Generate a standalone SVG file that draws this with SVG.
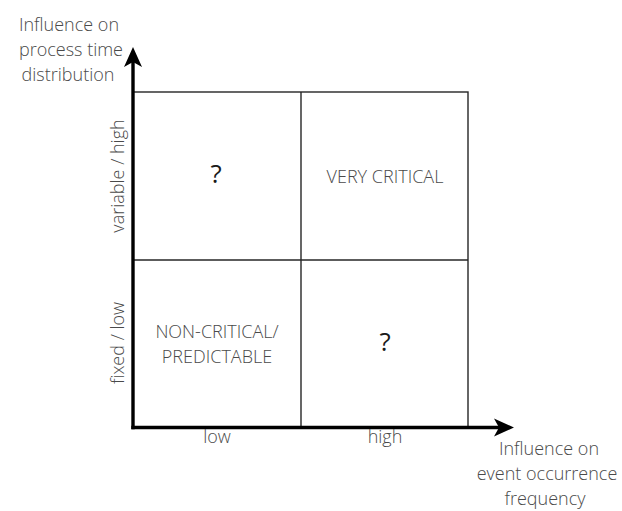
<svg xmlns="http://www.w3.org/2000/svg" width="622" height="511" viewBox="0 0 622 511">
  <style>
    .lbl { font-family: "Open Sans", "Liberation Sans", sans-serif; font-size: 18px; font-weight: 300; fill: #4a4a4a; text-anchor: middle; }
    .q { font-family: "Open Sans", "Liberation Sans", sans-serif; font-size: 26px; fill: #1a1a1a; text-anchor: middle; }
    .grid { stroke: #262626; stroke-width: 1.4; fill: none; }
    .axis { stroke: #000; stroke-width: 3.4; fill: none; }
  </style>
  <defs>
    <marker id="arrow" viewBox="0 0 20 20" refX="5" refY="10" markerWidth="20" markerHeight="20" markerUnits="userSpaceOnUse" orient="auto">
      <path d="M0,1 L20,10 L0,19 L5,10 Z" fill="#000"/>
    </marker>
  </defs>

  <!-- quadrant grid -->
  <g id="grid">
    <rect class="grid" x="133" y="92" width="335" height="336"/>
    <line class="grid" x1="301" y1="92" x2="301" y2="428"/>
    <line class="grid" x1="133" y1="260" x2="468" y2="260"/>
  </g>

  <!-- axes -->
  <g id="connectors">
    <line class="axis" x1="133" y1="429.2" x2="133" y2="62" marker-end="url(#arrow)"/>
    <line class="axis" x1="131.3" y1="427.5" x2="499" y2="427.5" marker-end="url(#arrow)"/>
  </g>

  <!-- axis titles -->
  <g id="y-axis-title">
    <text class="lbl" x="69" y="31">Influence on</text>
    <text class="lbl" x="71" y="56">process time</text>
    <text class="lbl" x="68" y="81">distribution</text>
  </g>
  <g id="x-axis-title">
    <text class="lbl" x="549" y="455">Influence on</text>
    <text class="lbl" x="547" y="480">event occurrence</text>
    <text class="lbl" x="545" y="505">frequency</text>
  </g>

  <!-- axis tick labels -->
  <g id="x-low"><text class="lbl" x="217" y="443">low</text></g>
  <g id="x-high"><text class="lbl" x="385" y="443">high</text></g>
  <g id="y-high"><text class="lbl" transform="translate(124,176) rotate(-90)">variable / high</text></g>
  <g id="y-low"><text class="lbl" transform="translate(124,343) rotate(-90)">fixed / low</text></g>

  <!-- quadrants -->
  <g id="q-top-left"><text class="q" x="216" y="183">?</text></g>
  <g id="q-top-right"><text class="lbl" x="385" y="183">VERY CRITICAL</text></g>
  <g id="q-bottom-left">
    <text class="lbl" x="217" y="338">NON-CRITICAL/</text>
    <text class="lbl" x="217" y="363">PREDICTABLE</text>
  </g>
  <g id="q-bottom-right"><text class="q" x="385" y="351">?</text></g>
</svg>
